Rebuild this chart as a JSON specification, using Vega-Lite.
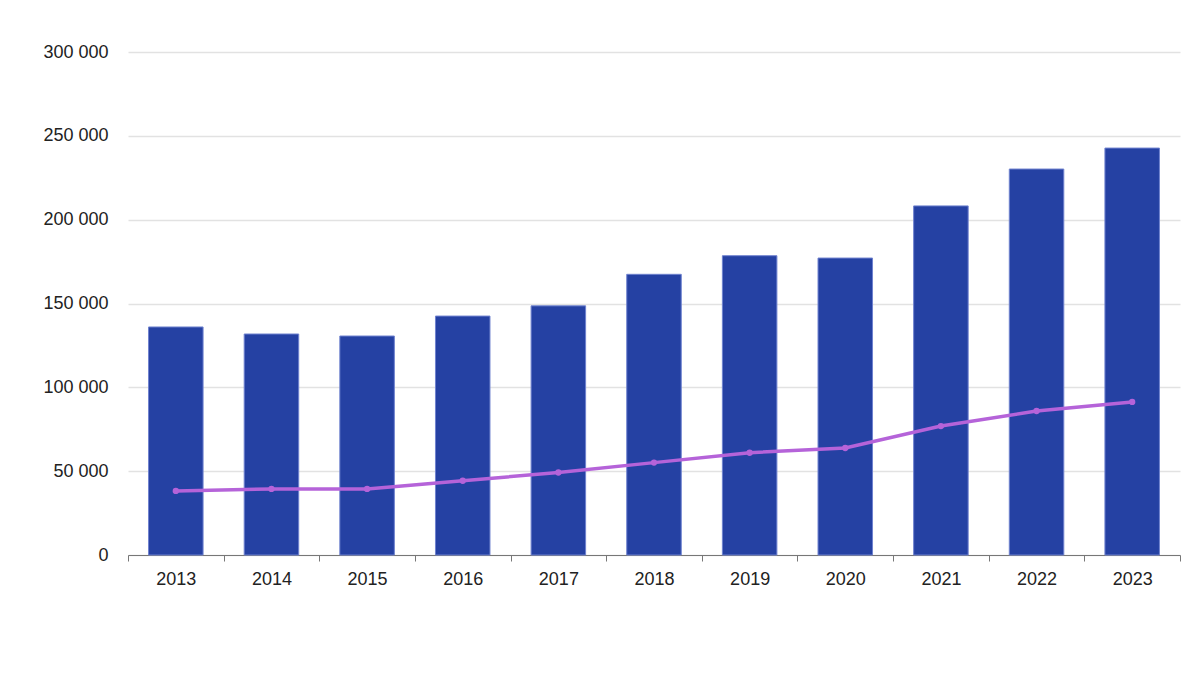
{
  "$schema": "https://vega.github.io/schema/vega-lite/v6.json",
  "autosize": {"type": "none"},
  "padding": {"left": 128, "top": 52, "right": 20, "bottom": 120},
  "width": 1052,
  "height": 503,
  "background": "white",
  "config": {
    "view": {"stroke": null},
    "locale": {"number": {"decimal": ",", "thousands": " ", "grouping": [3], "currency": ["", ""]}},
    "axis": {"labelFont": "Liberation Sans", "labelFontSize": 18, "labelColor": "#222222"}
  },
  "data": {
    "values": [
      {"year": "2013", "total": 136000, "line": 38200},
      {"year": "2014", "total": 131800, "line": 39400},
      {"year": "2015", "total": 130600, "line": 39400},
      {"year": "2016", "total": 142500, "line": 44300},
      {"year": "2017", "total": 148600, "line": 49200},
      {"year": "2018", "total": 167400, "line": 55100},
      {"year": "2019", "total": 178500, "line": 61000},
      {"year": "2020", "total": 177100, "line": 63800},
      {"year": "2021", "total": 208200, "line": 76900},
      {"year": "2022", "total": 230200, "line": 85900},
      {"year": "2023", "total": 242700, "line": 91300}
    ]
  },
  "encoding": {
    "x": {
      "field": "year", "type": "ordinal",
      "scale": {"paddingInner": 0, "paddingOuter": 0},
      "axis": {
        "title": null, "labelAngle": 0, "tickBand": "extent",
        "domainColor": "#777777", "tickColor": "#777777", "tickSize": 6,
        "labelPadding": 9, "grid": false
      }
    }
  },
  "layer": [
    {
      "mark": {"type": "bar", "color": "#2541a3", "stroke": "#6f82cf", "strokeWidth": 1, "width": {"band": 0.57}},
      "encoding": {
        "y": {
          "field": "total", "type": "quantitative",
          "scale": {"domain": [0, 300000]},
          "axis": {
            "title": null, "format": ",d", "values": [0, 50000, 100000, 150000, 200000, 250000, 300000],
            "labelOverlap": false,
            "domain": false, "ticks": false, "labelPadding": 20,
            "gridColor": "#e2e2e2", "gridWidth": 1.5
          }
        }
      }
    },
    {
      "mark": {"type": "line", "color": "#b563d9", "strokeWidth": 3.5, "point": {"filled": true, "size": 40, "color": "#b563d9"}},
      "encoding": {
        "y": {
          "field": "line", "type": "quantitative",
          "scale": {"domain": [0, 300000]},
          "axis": {
            "title": null, "format": ",d", "values": [0, 50000, 100000, 150000, 200000, 250000, 300000],
            "labelOverlap": false,
            "domain": false, "ticks": false, "labelPadding": 20,
            "gridColor": "#e2e2e2", "gridWidth": 1.5
          }
        }
      }
    }
  ]
}
